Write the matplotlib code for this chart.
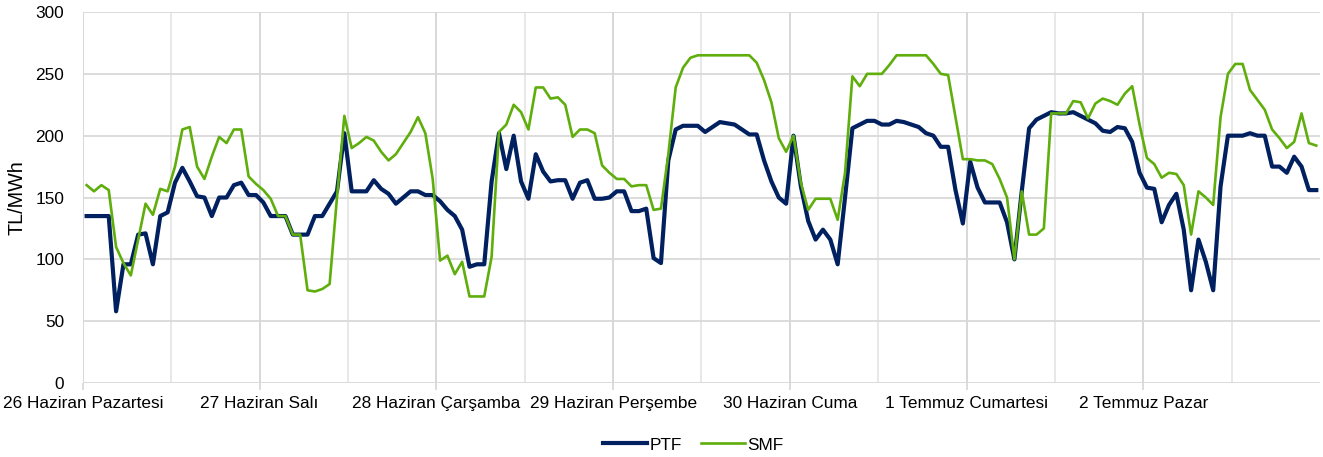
import matplotlib
matplotlib.use("Agg")
import matplotlib.pyplot as plt
import numpy as np

plt.rcParams['font.family'] = ['Liberation Sans', 'DejaVu Sans']

days = ["26 Haziran Pazartesi", "27 Haziran Salı", "28 Haziran Çarşamba",
        "29 Haziran Perşembe", "30 Haziran Cuma", "1 Temmuz Cumartesi",
        "2 Temmuz Pazar"]

ptf = [135, 135, 135, 135, 58, 96, 96, 120, 121, 96, 135, 138,
       162, 174, 163, 151, 150, 135, 150, 150, 160, 162, 152, 152,
       146, 135, 135, 135, 120, 120, 120, 135, 135, 145, 155, 202,
       155, 155, 155, 164, 157, 153, 145, 150, 155, 155, 152, 152,
       147, 140, 135, 124, 94, 96, 96, 163, 202, 173, 200, 163,
       149, 185, 171, 163, 164, 164, 149, 162, 164, 149, 149, 150,
       155, 155, 139, 139, 141, 101, 97, 180, 205, 208, 208, 208,
       203, 207, 211, 210, 209, 205, 201, 201, 180, 163, 150, 145,
       200, 159, 131, 116, 124, 116, 96, 150, 206, 209, 212, 212,
       209, 209, 212, 211, 209, 207, 202, 200, 191, 191, 156, 129,
       179, 158, 146, 146, 146, 130, 100, 155, 206, 213, 216, 219,
       218, 218, 219, 216, 213, 210, 204, 203, 207, 206, 195, 170,
       158, 157, 130, 144, 153, 124, 75, 116, 98, 75, 159, 200,
       200, 200, 202, 200, 200, 175, 175, 170, 183, 175, 156, 156]

smf = [160, 155, 160, 156, 110, 97, 87, 116, 145, 136, 157, 155,
       175, 205, 207, 175, 165, 183, 199, 194, 205, 205, 167, 161,
       156, 149, 135, 135, 120, 120, 75, 74, 76, 80, 150, 216,
       190, 194, 199, 196, 187, 180, 185, 194, 203, 215, 202, 165,
       99, 103, 88, 98, 70, 70, 70, 102, 203, 209, 225, 219,
       205, 239, 239, 230, 231, 225, 199, 205, 205, 202, 176, 170,
       165, 165, 159, 160, 160, 140, 141, 185, 239, 255, 263, 265,
       265, 265, 265, 265, 265, 265, 265, 259, 245, 227, 198, 187,
       200, 162, 140, 149, 149, 149, 132, 170, 248, 240, 250, 250,
       250, 257, 265, 265, 265, 265, 265, 258, 250, 249, 215, 181,
       181, 180, 180, 177, 165, 150, 100, 155, 120, 120, 125, 218,
       218, 218, 228, 227, 214, 226, 230, 228, 225, 234, 240, 209,
       182, 177, 166, 170, 169, 160, 120, 155, 150, 144, 215, 250,
       258, 258, 237, 229, 221, 205, 198, 190, 195, 218, 194, 192]

fig = plt.figure(figsize=(13.23, 4.57), dpi=100)
ax = fig.add_axes([0.0627, 0.1619, 0.935, 0.8118])

x = np.arange(len(ptf)) + 0.5
ax.plot(x, ptf, color='#002060', lw=3.0, label='PTF', solid_joinstyle='round', zorder=3)
ax.plot(x, smf, color='#5fae0c', lw=1.9, label='SMF', solid_joinstyle='round', zorder=3)

ax.set_xlim(0, 168)
ax.set_ylim(0, 300)
ax.set_yticks(np.arange(0, 301, 50))
ax.set_xticks(np.arange(0, 168, 24))
ax.set_xticklabels(days)
ax.set_xticks(np.arange(12, 168, 24), minor=True)

grid_c = '#d9d9d9'
ax.grid(axis='y', color=grid_c, lw=1.3, zorder=0)
ax.grid(axis='x', which='major', color='#d4d4d4', lw=1.3, zorder=0)
ax.grid(axis='x', which='minor', color='#e6e6e6', lw=1.3, zorder=0)
for s in ax.spines.values():
    s.set_visible(False)
ax.tick_params(axis='y', length=0, labelsize=12.4, pad=13.5, colors='#000000')
ax.tick_params(axis='x', which='major', length=5, color=grid_c, width=1.3,
               labelsize=12.4, pad=4)
ax.tick_params(axis='x', which='minor', length=0)
ax.set_ylabel('TL/MWh', fontsize=14.2, labelpad=6)

ax.legend(loc='upper center', bbox_to_anchor=(0.4935, -0.105), ncol=2, frameon=False,
          fontsize=12.4, handlelength=2.55, columnspacing=1.15, handletextpad=0.12)

fig.savefig('out.png', dpi=100)
